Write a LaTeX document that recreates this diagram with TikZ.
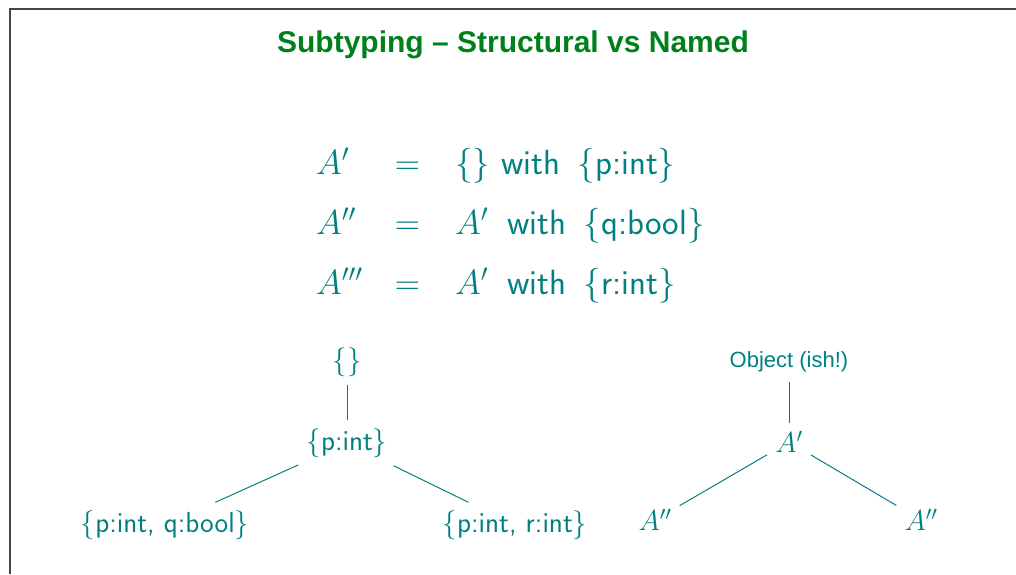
\RequirePackage{fix-cm}
\documentclass[tikz,border=0pt]{standalone}
\usepackage{fontspec}
\newfontfamily\helv{Liberation Sans}
\definecolor{slideteal}{RGB}{0,128,128}
\definecolor{titlegreen}{RGB}{0,128,26}
\definecolor{framecol}{RGB}{70,70,70}
\begin{document}
\begin{tikzpicture}[x=1pt,y=-1pt,
  every node/.style={inner sep=0pt, text=slideteal},
  eqtext/.style={font=\sffamily\fontsize{35}{42}\selectfont},
  treenode/.style={inner sep=8pt, font=\sffamily\fontsize{29}{35}\selectfont},
  objnode/.style={inner sep=10pt, font=\helv\fontsize{22}{26}\selectfont},
  edge/.style={draw=slideteal, line width=1pt}]
\useasboundingbox (0,0) rectangle (1016,574);
\draw[framecol, line width=2pt] (10,574) -- (10,8.5) -- (1016,8.5);
\node[text=titlegreen, font=\helv\bfseries\fontsize{30}{36}\selectfont] (title) at (513,45) {Subtyping – Structural vs Named};
% equations
\node[eqtext, anchor=base west] (l1) at (316,174) {$A'$};
\node[eqtext, anchor=base] (e1) at (407.5,174) {$=$};
\node[eqtext, anchor=base west] (r1) at (455,174) {$\{\}$ with\hspace{0.5em}$\{\textsf{p:int}\}$};
\node[eqtext, anchor=base west] (l2) at (316,234) {$A''$};
\node[eqtext, anchor=base] (e2) at (407.5,234) {$=$};
\node[eqtext, anchor=base west] (r2) at (455,234) {$A'$\hspace{0.55em}with\hspace{0.5em}$\{\textsf{q:bool}\}$};
\node[eqtext, anchor=base west] (l3) at (316,294) {$A'''$};
\node[eqtext, anchor=base] (e3) at (407.5,294) {$=$};
\node[eqtext, anchor=base west] (r3) at (455,294) {$A'$\hspace{0.55em}with\hspace{0.5em}$\{\textsf{r:int}\}$};
% left tree
\node[treenode] (n0) at (347,362) {$\{\}$};
\node[treenode] (n1) at (347,443) {$\{\textsf{p:int}\}$};
\node[treenode] (n2) at (165,525) {$\{\textsf{p:int, q:bool}\}$};
\node[treenode] (n3) at (515,525) {$\{\textsf{p:int, r:int}\}$};
\draw[edge] (n0) -- (n1);
\draw[edge] (n1) -- (n2);
\draw[edge] (n1) -- (n3);
% right tree
\node[objnode] (m0) at (789,362) {Object (ish!)};
\node[treenode] (m1) at (789,442) {$A'$};
\node[treenode] (m2) at (655,520) {$A''$};
\node[treenode] (m3) at (921,520) {$A''$};
\draw[edge] (m0) -- (m1);
\draw[edge] (m1) -- (m2);
\draw[edge] (m1) -- (m3);
\end{tikzpicture}
\end{document}
